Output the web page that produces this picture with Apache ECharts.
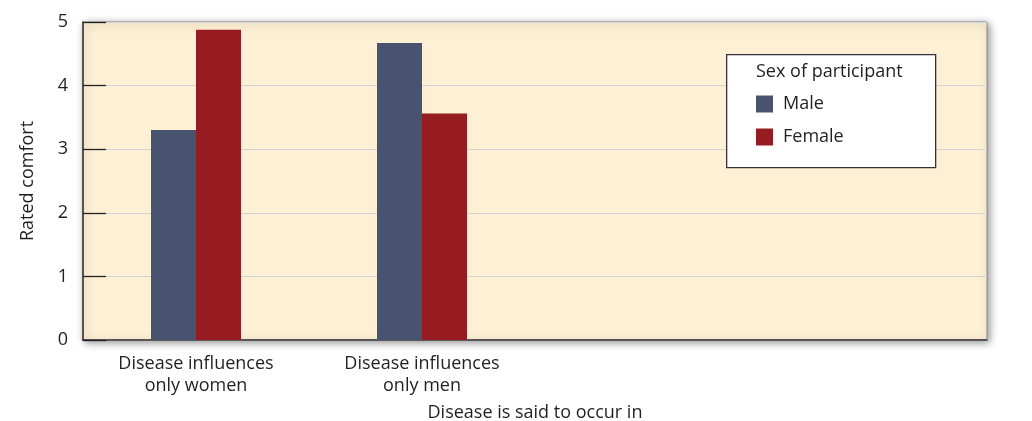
<!DOCTYPE html>
<html>
<head>
<meta charset="utf-8">
<script src="https://cdn.jsdelivr.net/npm/echarts@6/dist/echarts.min.js"></script>
<style>
html,body{margin:0;padding:0;background:#fff;}
#chart{width:1032px;height:421px;}
</style>
</head>
<body>
<div id="chart"></div>
<script>
var categories = ['Disease influences\nonly women', 'Disease influences\nonly men', '', ''];
var maleValues = [3.30, 4.67, null, null];
var femaleValues = [4.88, 3.56, null, null];
var yTicks = [0, 1, 2, 3, 4, 5];

var FONT = '"Open Sans", "Liberation Sans", sans-serif';
var TXT = '#231f20';
var FS = 18;

var chart = echarts.init(document.getElementById('chart'));
chart.setOption({
  animation: false,
  textStyle: { fontFamily: FONT, color: TXT },
  grid: {
    left: 83, right: 45, top: 22, bottom: 81,
    containLabel: false,
    outerBoundsMode: 'none',
    show: true,
    backgroundColor: '#fdf0d4',
    borderColor: '#8a8a8a',
    borderWidth: 1,
    shadowColor: 'rgba(0,0,0,0.45)',
    shadowBlur: 8,
    shadowOffsetX: 2,
    shadowOffsetY: 2
  },
  legend: {
    orient: 'vertical',
    left: 756, top: 95,
    padding: 0,
    z: 30,
    icon: 'rect',
    itemWidth: 17, itemHeight: 17,
    itemGap: 15,
    textStyle: { fontFamily: FONT, fontSize: FS, color: TXT, padding: [0, 0, 0, 5] },
    data: ['Male', 'Female']
  },
  graphic: [
    {
      type: 'rect', left: 726, top: 54, z: 10,
      shape: { width: 209, height: 113 },
      style: { fill: '#ffffff', stroke: '#333333', lineWidth: 1.3 }
    },
    {
      type: 'text', left: 756, top: 63, z: 11,
      style: { text: 'Sex of participant', font: FS + 'px ' + FONT, fill: TXT }
    }
  ],
  xAxis: {
    type: 'category',
    data: categories,
    name: 'Disease is said to occur in',
    nameLocation: 'middle',
    nameGap: 64,
    nameTextStyle: { fontSize: FS, color: TXT, fontFamily: FONT },
    axisLine: { show: true, lineStyle: { color: '#333', width: 1.5 } },
    axisTick: { show: false },
    axisLabel: { fontSize: FS, color: TXT, fontFamily: FONT, margin: 13, lineHeight: 22 },
    splitLine: { show: false }
  },
  yAxis: {
    type: 'value',
    min: 0, max: 5, interval: 1,
    name: 'Rated comfort',
    nameLocation: 'middle',
    nameGap: 46,
    nameTextStyle: { fontSize: FS, color: TXT, fontFamily: FONT },
    axisLine: { show: true, lineStyle: { color: '#333', width: 1.5 } },
    axisTick: { show: true, inside: true, length: 23, lineStyle: { color: '#222', width: 1.3 } },
    axisLabel: {
      fontSize: FS, color: TXT, fontFamily: FONT, margin: 15,
      formatter: function (v) { return yTicks.indexOf(v) >= 0 ? String(v) : ''; }
    },
    splitLine: { show: true, lineStyle: { color: '#cfd2d6', width: 1.2 } }
  },
  series: [
    {
      name: 'Male', type: 'bar', data: maleValues,
      barWidth: 45, barGap: '0%', barCategoryGap: '60%',
      itemStyle: { color: '#48536f' }
    },
    {
      name: 'Female', type: 'bar', data: femaleValues,
      barWidth: 45, barGap: '0%',
      itemStyle: { color: '#971c22' }
    }
  ]
});
</script>
</body>
</html>
